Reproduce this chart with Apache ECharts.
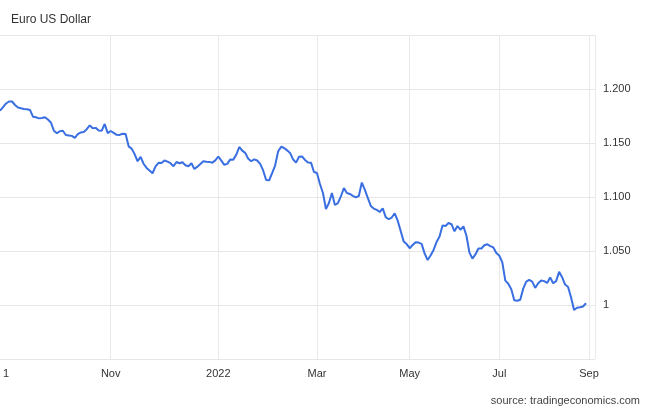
<!DOCTYPE html>
<html>
<head>
<meta charset="utf-8">
<script src="https://cdn.jsdelivr.net/npm/echarts@6/dist/echarts.min.js"></script>
<style>
html,body{margin:0;padding:0;background:#fff;}
#c{width:650px;height:408px;}
</style>
</head>
<body>
<div id="c"></div>
<script>
// EUR/USD, late Aug 2021 - end of Aug 2022 (one point per session slot)
const values = [
1.1799,1.1832,1.1866,1.1884,1.1884,1.1852,1.1829,1.1821,1.1815,1.1813,
1.1806,1.1744,1.1738,1.1728,1.1731,1.1739,1.1717,1.1690,1.1614,1.1591,
1.1609,1.1613,1.1574,1.1570,1.1566,1.1548,1.1583,1.1598,1.1602,1.1628,
1.1663,1.1637,1.1640,1.1616,1.1614,1.1676,1.1592,1.1611,1.1594,1.1576,
1.1575,1.1586,1.1583,1.1469,1.1448,1.1398,1.1331,1.1371,1.1308,1.1269,
1.1246,1.1220,1.1283,1.1317,1.1315,1.1339,1.1327,1.1313,1.1285,1.1324,
1.1313,1.1322,1.1294,1.1285,1.1312,1.1259,1.1281,1.1306,1.1331,1.1326,
1.1325,1.1318,1.1339,1.1375,1.1337,1.1298,1.1307,1.1348,1.1346,1.1391,
1.1463,1.1429,1.1409,1.1354,1.1331,1.1349,1.1338,1.1306,1.1246,1.1157,
1.1155,1.1221,1.1291,1.1421,1.1465,1.1454,1.1432,1.1408,1.1348,1.1318,
1.1372,1.1375,1.1343,1.1319,1.1318,1.1231,1.1222,1.1120,1.1037,1.0889,
1.0944,1.1037,1.0926,1.0944,1.1005,1.1083,1.1037,1.1028,1.1011,1.0997,
1.1009,1.1134,1.1069,1.0991,1.0917,1.0893,1.0881,1.0861,1.0894,1.0813,
1.0794,1.0810,1.0849,1.0781,1.0685,1.0589,1.0564,1.0526,1.0555,1.0581,
1.0578,1.0566,1.0478,1.0417,1.0459,1.0510,1.0583,1.0635,1.0737,1.0731,
1.0759,1.0748,1.0682,1.0731,1.0697,1.0728,1.0641,1.0485,1.0430,1.0468,
1.0523,1.0523,1.0553,1.0562,1.0546,1.0533,1.0482,1.0456,1.0394,1.0226,
1.0197,1.0145,1.0044,1.0040,1.0049,1.0152,1.0216,1.0232,1.0216,1.0159,
1.0201,1.0227,1.0221,1.0204,1.0256,1.0201,1.0221,1.0307,1.0257,1.0189,
1.0167,1.0070,0.9954,0.9975,0.9979,0.9986,1.0016
];
const slotCount = 200;
const tickIdx  = [2, 37, 73, 106, 137, 167, 197];
const tickText = ['1', 'Nov', '2022', 'Mar', 'May', 'Jul', 'Sep'];
const gridIdx  = [37, 73, 106, 137, 167, 197, 199];
const yTicks   = [1, 1.05, 1.1, 1.15, 1.2];

const categories = [];
for (let i = 0; i < slotCount; i++) categories.push(String(i));
const seriesData = categories.map((c, i) => i < values.length ? values[i] : null);

const chart = echarts.init(document.getElementById('c'), null, {renderer: 'canvas'});
chart.setOption({
  animation: false,
  backgroundColor: '#fff',
  title: {
    text: 'Euro US Dollar',
    left: 6, top: 9,
    textStyle: {fontFamily: 'Liberation Sans, Arial, sans-serif', fontSize: 12, fontWeight: 'normal', color: '#333'}
  },
  graphic: [{
    type: 'text', right: 10, top: 395,
    style: {text: 'source: tradingeconomics.com', fill: '#444', fontSize: 11, fontFamily: 'Liberation Sans, Arial, sans-serif'}
  }],
  grid: {left: 0, right: 55, top: 35, height: 324},
  xAxis: {
    type: 'category',
    data: categories,
    boundaryGap: false,
    axisLine: {show: false},
    axisTick: {show: false},
    axisLabel: {
      interval: (i) => tickIdx.indexOf(i) >= 0,
      formatter: (v, i) => { const k = tickIdx.indexOf(Number(v)); return k >= 0 ? tickText[k] : ''; },
      color: '#333', fontSize: 11, margin: 9,
      fontFamily: 'Liberation Sans, Arial, sans-serif'
    },
    splitLine: {
      show: true,
      interval: (i) => gridIdx.indexOf(i) >= 0,
      lineStyle: {color: '#e9e9e9', width: 1}
    }
  },
  yAxis: {
    type: 'value',
    position: 'right',
    min: 0.95, max: 1.25, interval: 0.05,
    axisLine: {show: false},
    axisTick: {show: false},
    splitLine: {lineStyle: {color: '#e6e6e6', width: 1}},
    axisLabel: {
      showMinLabel: false, showMaxLabel: false,
      margin: 8,
      color: '#333', fontSize: 11,
      fontFamily: 'Liberation Sans, Arial, sans-serif',
      formatter: (v) => {
        const t = yTicks.find(x => Math.abs(x - v) < 1e-6);
        if (t === undefined) return '';
        return t === 1 ? '1' : t.toFixed(3);
      }
    }
  },
  series: [{
    type: 'line',
    data: seriesData,
    showSymbol: false,
    symbol: 'none',
    smooth: false,
    connectNulls: false,
    lineStyle: {color: '#3a6fe2', width: 2},
    itemStyle: {color: '#3a6fe2'}
  }]
});
</script>
</body>
</html>
